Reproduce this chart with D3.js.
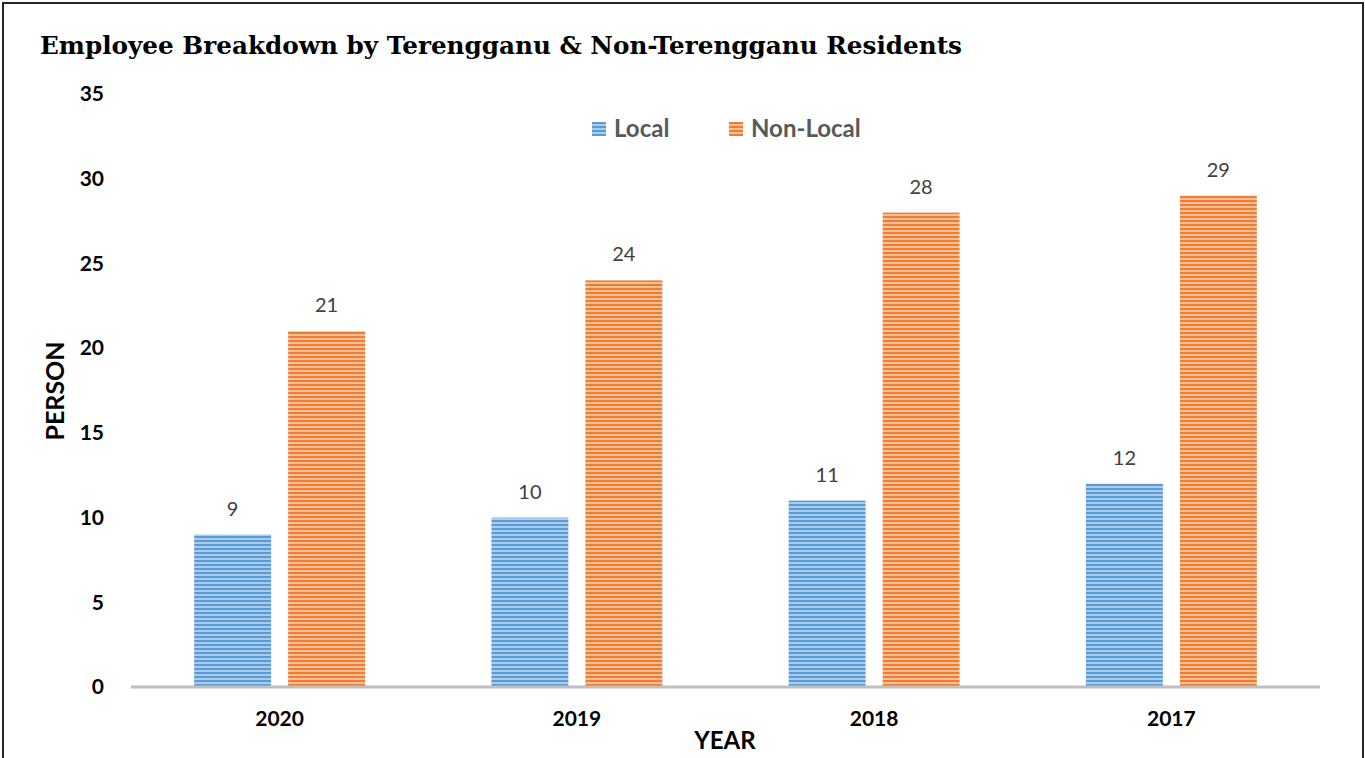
<!DOCTYPE html>
<html>
<head>
<meta charset="utf-8">
<script src="https://cdn.jsdelivr.net/npm/d3@7"></script>
<style>
  body { margin: 0; background: #fff; }
  svg { display: block; }
</style>
</head>
<body>
<div id="chart"></div>
<script>
const width = 1365;
const height = 758;

// data
const years = ["2020", "2019", "2018", "2017"];
const seriesNames = ["Local", "Non-Local"];
const localValues = [9, 10, 11, 12];
const nonLocalValues = [21, 24, 28, 29];
const yTicks = [0, 5, 10, 15, 20, 25, 30, 35];

const colors = { "Local": ["#5b9bd5", "#a9cbec"], "Non-Local": ["#ed7d31", "#f7bf98"] };
const patternId = { "Local": "stripeLocal", "Non-Local": "stripeNonLocal" };

const margin = { top: 94, left: 131, right: 45, bottom: 71 };

const svg = d3.select("#chart").append("svg")
  .attr("width", width)
  .attr("height", height);

// striped fills
const defs = svg.append("defs");
seriesNames.forEach(s => {
  const p = defs.append("pattern")
    .attr("id", patternId[s])
    .attr("patternUnits", "userSpaceOnUse")
    .attr("width", 8)
    .attr("height", 4);
  p.append("rect").attr("width", 8).attr("height", 4).attr("fill", colors[s][1]);
  p.append("rect").attr("width", 8).attr("height", 2).attr("fill", colors[s][0]);
});

// outer frame
svg.append("rect")
  .attr("x", 3).attr("y", 3)
  .attr("width", width - 5).attr("height", height + 10)
  .attr("fill", "none")
  .attr("stroke", "#262626")
  .attr("stroke-width", 2);

// title
svg.append("text")
  .attr("x", 40).attr("y", 54)
  .attr("font-family", "'DejaVu Serif', serif")
  .attr("font-weight", "bold")
  .attr("font-size", 25)
  .attr("textLength", 922)
  .attr("lengthAdjust", "spacingAndGlyphs")
  .attr("fill", "#000")
  .text("Employee Breakdown by Terengganu & Non-Terengganu Residents");

const x0 = d3.scaleBand()
  .domain(years)
  .range([margin.left, width - margin.right])
  .paddingInner(0.425)
  .paddingOuter(0.2125);

const x1 = d3.scaleBand()
  .domain(seriesNames)
  .range([0, x0.bandwidth()])
  .paddingInner(0.181);

const y = d3.scaleLinear()
  .domain([0, 35])
  .range([height - margin.bottom, margin.top]);

const rows = years.map((yr, i) => ({
  year: yr,
  values: [
    { key: "Local", value: localValues[i] },
    { key: "Non-Local", value: nonLocalValues[i] }
  ]
}));

// bars
const groups = svg.append("g")
  .selectAll("g")
  .data(rows)
  .enter().append("g")
  .attr("transform", d => `translate(${x0(d.year)},0)`);

groups.selectAll("rect")
  .data(d => d.values)
  .enter().append("rect")
  .attr("x", d => x1(d.key))
  .attr("y", d => y(d.value))
  .attr("width", x1.bandwidth())
  .attr("height", d => y(0) - y(d.value))
  .attr("fill", d => `url(#${patternId[d.key]})`);

// value labels
groups.selectAll("text")
  .data(d => d.values)
  .enter().append("text")
  .attr("x", d => x1(d.key) + x1.bandwidth() / 2)
  .attr("y", d => y(d.value) - 19)
  .attr("text-anchor", "middle")
  .attr("font-family", "Lato, 'Open Sans', sans-serif")
  .attr("font-size", 20)
  .attr("fill", "#404040")
  .text(d => d.value);

// x axis line
svg.append("line")
  .attr("x1", margin.left).attr("x2", width - margin.right)
  .attr("y1", y(0)).attr("y2", y(0))
  .attr("stroke", "#bfbfbf")
  .attr("stroke-width", 3);

// y tick labels
svg.append("g")
  .selectAll("text")
  .data(yTicks)
  .enter().append("text")
  .attr("x", 104)
  .attr("y", d => y(d))
  .attr("dy", "0.35em")
  .attr("text-anchor", "end")
  .attr("font-family", "Lato, 'Open Sans', sans-serif")
  .attr("font-weight", "bold")
  .attr("font-size", 21)
  .attr("fill", "#000")
  .text(d => d);

// x tick labels
svg.append("g")
  .selectAll("text")
  .data(years)
  .enter().append("text")
  .attr("x", d => x0(d) + x0.bandwidth() / 2)
  .attr("y", 719)
  .attr("dy", "0.35em")
  .attr("text-anchor", "middle")
  .attr("font-family", "Lato, 'Open Sans', sans-serif")
  .attr("font-weight", "bold")
  .attr("font-size", 21)
  .attr("fill", "#000")
  .text(d => d);

// axis titles
svg.append("text")
  .attr("x", 725).attr("y", 741)
  .attr("dy", "0.35em")
  .attr("text-anchor", "middle")
  .attr("font-family", "Lato, 'Open Sans', sans-serif")
  .attr("font-weight", "bold")
  .attr("font-size", 24)
  .attr("fill", "#000")
  .text("YEAR");

svg.append("text")
  .attr("transform", "translate(55,391) rotate(-90)")
  .attr("dy", "0.35em")
  .attr("text-anchor", "middle")
  .attr("font-family", "Lato, 'Open Sans', sans-serif")
  .attr("font-weight", "bold")
  .attr("font-size", 25)
  .attr("fill", "#000")
  .text("PERSON");

// legend
const legendX = [592, 729];
const legend = svg.append("g")
  .selectAll("g")
  .data(seriesNames)
  .enter().append("g")
  .attr("transform", (d, i) => `translate(${legendX[i]},122)`);

legend.append("rect")
  .attr("width", 14).attr("height", 14)
  .attr("fill", d => `url(#${patternId[d]})`);

legend.append("text")
  .attr("x", 22).attr("y", 7)
  .attr("dy", "0.35em")
  .attr("font-family", "Lato, 'Open Sans', sans-serif")
  .attr("font-weight", "bold")
  .attr("font-size", 24)
  .attr("fill", "#595959")
  .text(d => d);
</script>
</body>
</html>
